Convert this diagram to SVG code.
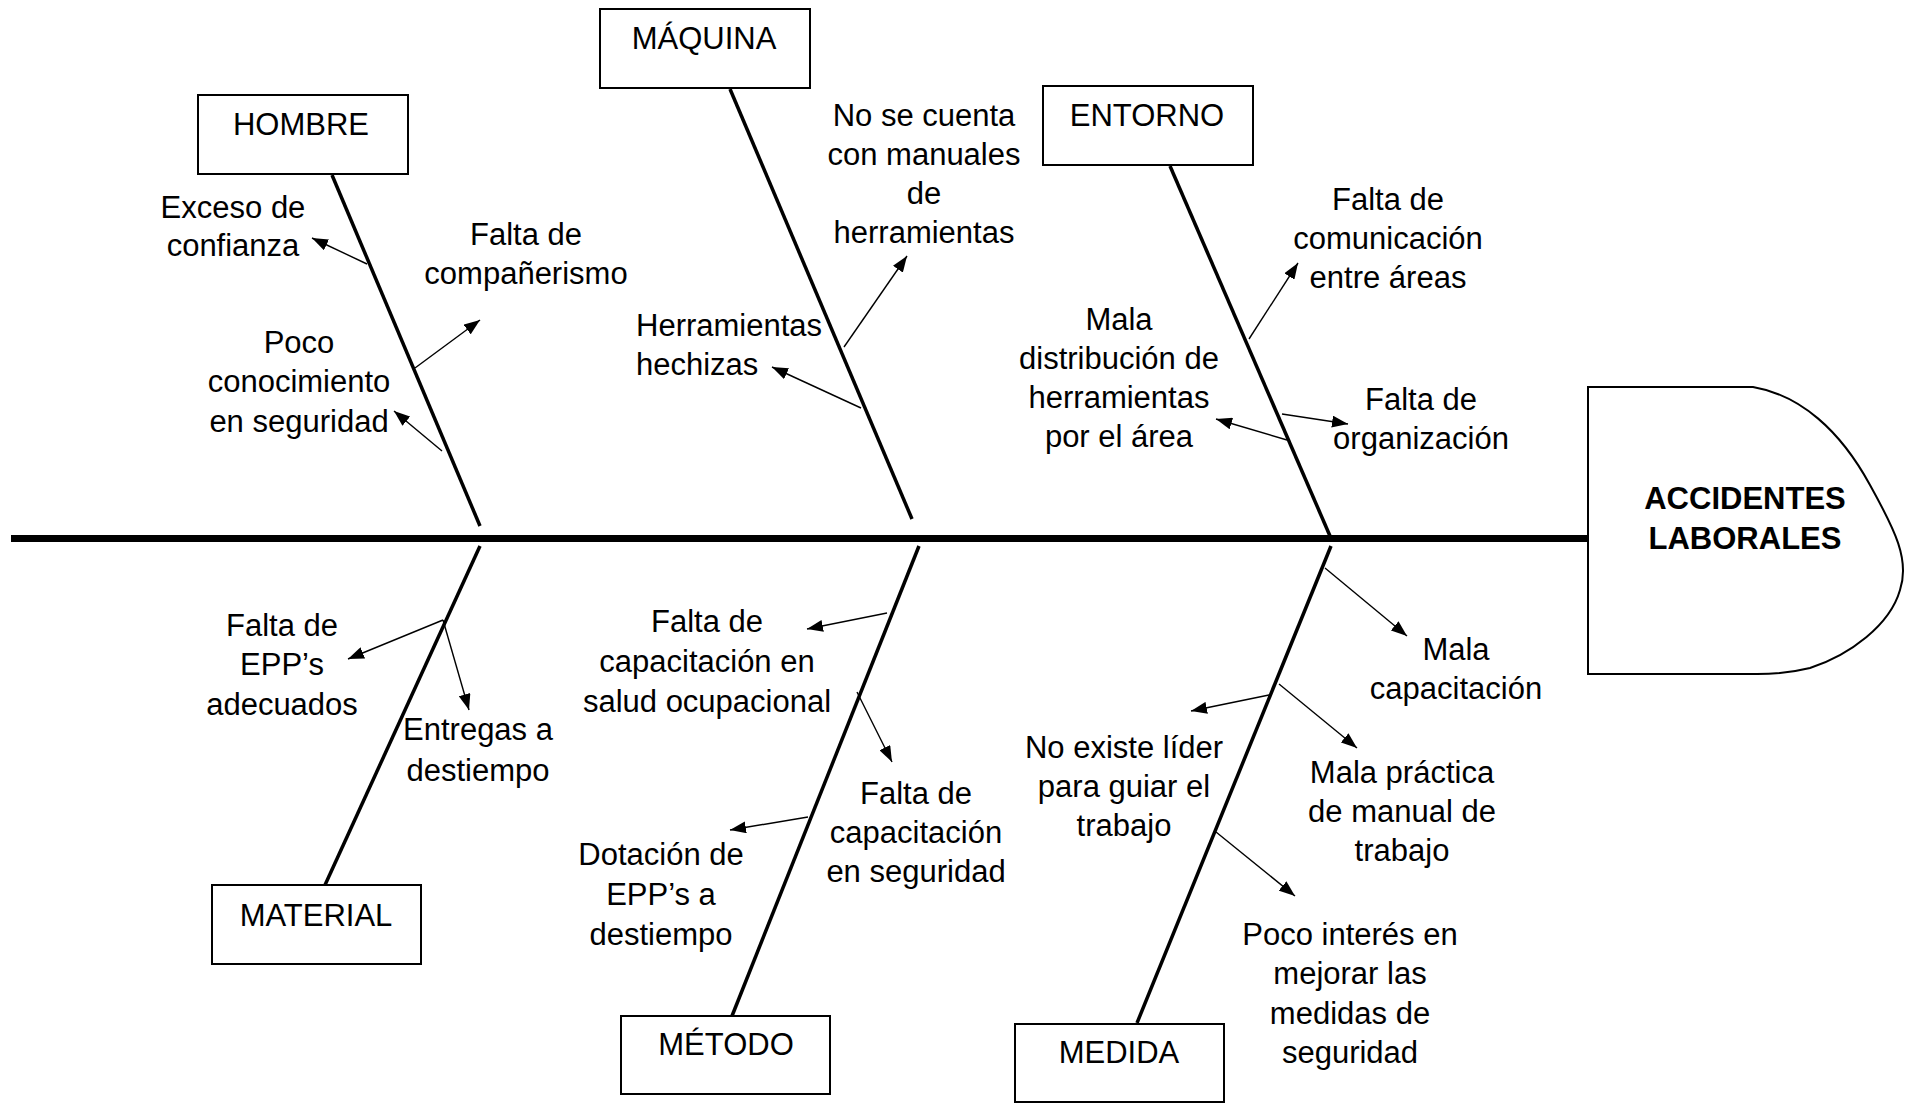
<svg xmlns="http://www.w3.org/2000/svg" width="1909" height="1105" viewBox="0 0 1909 1105">
<style>
text{font-family:"Liberation Sans",Arial,sans-serif;font-size:31px;fill:#000;text-anchor:middle}
.b{font-weight:bold}
.box{fill:#fff;stroke:#000;stroke-width:2}
.bone{stroke:#000;stroke-width:3.5;fill:none}
.arr{stroke:#000;stroke-width:1.4;fill:none;marker-end:url(#ah)}
</style>
<defs>
<marker id="ah" markerUnits="userSpaceOnUse" markerWidth="17" markerHeight="12" refX="16" refY="6" orient="auto">
<path d="M0,0 L16,6 L0,12 z" fill="#000"/>
</marker>
</defs>
<rect width="1909" height="1105" fill="#fff"/>

<g id="connectors">
<line x1="11" y1="538.5" x2="1588" y2="538.5" stroke="#000" stroke-width="7"/>
<line class="bone" x1="332" y1="175" x2="480" y2="526"/>
<line class="bone" x1="730" y1="89" x2="912" y2="519"/>
<line class="bone" x1="1170" y1="166" x2="1330" y2="536"/>
<line class="bone" x1="480" y1="546" x2="325" y2="885"/>
<line class="bone" x1="919" y1="546" x2="732" y2="1016"/>
<line class="bone" x1="1331" y1="546" x2="1137" y2="1023"/>
<line class="arr" x1="367" y1="264" x2="312" y2="238"/>
<line class="arr" x1="415" y1="368" x2="480" y2="320"/>
<line class="arr" x1="442" y1="451" x2="394" y2="411"/>
<line class="arr" x1="844" y1="347" x2="907" y2="256"/>
<line class="arr" x1="861" y1="408" x2="772" y2="367"/>
<line class="arr" x1="1249" y1="339" x2="1298" y2="263"/>
<line class="arr" x1="1287" y1="440" x2="1216" y2="419"/>
<line class="arr" x1="1282" y1="414" x2="1348" y2="424"/>
<line class="arr" x1="443" y1="620" x2="348" y2="659"/>
<line class="arr" x1="443" y1="620" x2="469" y2="710"/>
<line class="arr" x1="887" y1="613" x2="807" y2="629"/>
<line class="arr" x1="857" y1="692" x2="892" y2="762"/>
<line class="arr" x1="808" y1="817" x2="730" y2="830"/>
<line class="arr" x1="1325" y1="568" x2="1407" y2="636"/>
<line class="arr" x1="1269" y1="695" x2="1191" y2="711"/>
<line class="arr" x1="1279" y1="684" x2="1357" y2="748"/>
<line class="arr" x1="1216" y1="832" x2="1295" y2="896"/>
</g>

<g id="hombre"><rect class="box" x="198" y="95" width="210" height="79"/><text x="301" y="135">HOMBRE</text></g>
<g id="maquina"><rect class="box" x="600" y="9" width="210" height="79"/><text x="704" y="49">MÁQUINA</text></g>
<g id="entorno"><rect class="box" x="1043" y="86" width="210" height="79"/><text x="1147" y="126">ENTORNO</text></g>
<g id="material"><rect class="box" x="212" y="885" width="209" height="79"/><text x="316" y="926">MATERIAL</text></g>
<g id="metodo"><rect class="box" x="621" y="1016" width="209" height="78"/><text x="726" y="1055">MÉTODO</text></g>
<g id="medida"><rect class="box" x="1015" y="1024" width="209" height="78"/><text x="1119" y="1063">MEDIDA</text></g>

<g id="efecto">
<path class="box" d="M1588,387 L1753,387 C1800,395 1840,430 1870,485 C1895,530 1910,560 1900,590 C1890,625 1850,655 1810,668 C1790,673 1770,674 1757,674 L1588,674 Z"/>
<text class="b" x="1745" y="509">ACCIDENTES</text>
<text class="b" x="1745" y="549">LABORALES</text>
</g>

<g id="c-exceso"><text x="233" y="217.5">Exceso de</text><text x="233" y="256">confianza</text></g>
<g id="c-companerismo"><text x="526" y="244.5">Falta de</text><text x="526" y="284">compañerismo</text></g>
<g id="c-conocimiento"><text x="299" y="353">Poco</text><text x="299" y="392">conocimiento</text><text x="299" y="431.5">en seguridad</text></g>
<g id="c-manuales"><text x="924" y="126">No se cuenta</text><text x="924" y="165">con manuales</text><text x="924" y="204">de</text><text x="924" y="243">herramientas</text></g>
<g id="c-hechizas"><text x="636" y="336" style="text-anchor:start">Herramientas</text><text x="636" y="375" style="text-anchor:start">hechizas</text></g>
<g id="c-comunicacion"><text x="1388" y="210">Falta de</text><text x="1388" y="249">comunicación</text><text x="1388" y="288">entre áreas</text></g>
<g id="c-distribucion"><text x="1119" y="330">Mala</text><text x="1119" y="369">distribución de</text><text x="1119" y="408">herramientas</text><text x="1119" y="447">por el área</text></g>
<g id="c-organizacion"><text x="1421" y="410">Falta de</text><text x="1421" y="448.5">organización</text></g>
<g id="c-epp"><text x="282" y="636">Falta de</text><text x="282" y="675">EPP’s</text><text x="282" y="714.5">adecuados</text></g>
<g id="c-entregas"><text x="478" y="740">Entregas a</text><text x="478" y="781">destiempo</text></g>
<g id="c-salud"><text x="707" y="632">Falta de</text><text x="707" y="672">capacitación en</text><text x="707" y="712">salud ocupacional</text></g>
<g id="c-capseg"><text x="916" y="804">Falta de</text><text x="916" y="843">capacitación</text><text x="916" y="882">en seguridad</text></g>
<g id="c-dotacion"><text x="661" y="865">Dotación de</text><text x="661" y="905">EPP’s a</text><text x="661" y="944.5">destiempo</text></g>
<g id="c-malacap"><text x="1456" y="660">Mala</text><text x="1456" y="698.5">capacitación</text></g>
<g id="c-lider"><text x="1124" y="758">No existe líder</text><text x="1124" y="797">para guiar el</text><text x="1124" y="835.5">trabajo</text></g>
<g id="c-practica"><text x="1402" y="783">Mala práctica</text><text x="1402" y="822">de manual de</text><text x="1402" y="860.5">trabajo</text></g>
<g id="c-interes"><text x="1350" y="944.5">Poco interés en</text><text x="1350" y="984">mejorar las</text><text x="1350" y="1023.5">medidas de</text><text x="1350" y="1063">seguridad</text></g>
</svg>
